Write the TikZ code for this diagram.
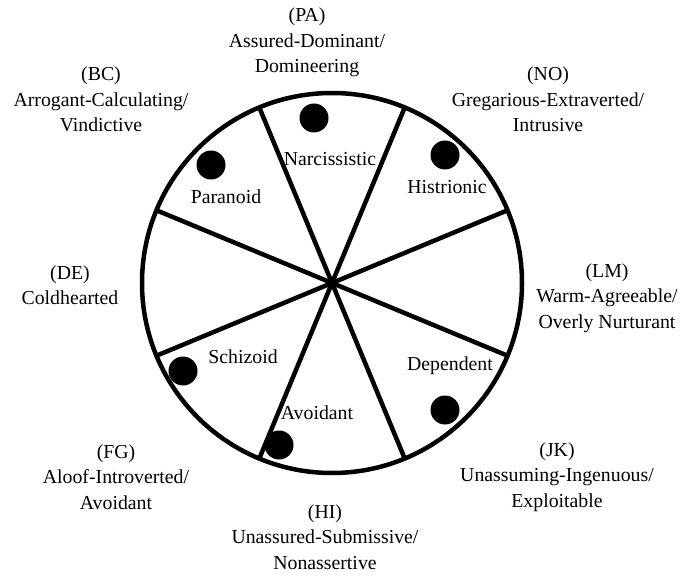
\documentclass[tikz,border=0pt]{standalone}
\usepackage{fontspec}
\setmainfont{Liberation Serif}
\usetikzlibrary{calc}
\begin{document}
\begin{tikzpicture}[x=1pt,y=-1pt,
  lbl/.style={align=center,inner sep=0pt,font=\fontsize{19.8}{25.5}\selectfont},
  inlbl/.style={inner sep=0pt,font=\fontsize{19.8}{24}\selectfont},
  spoke/.style={line width=4.5pt},
  rim/.style={line width=4.5pt},
  dot/.style={circle,fill=black,inner sep=0pt,minimum size=29pt}]
\useasboundingbox (0,0) rectangle (688,577);
\coordinate (c) at (332,283);
% spoke end points on the rim
\coordinate (e1) at ($(c)+(22.5:190)$);
\coordinate (e2) at ($(c)+(67.5:190)$);
\coordinate (e3) at ($(c)+(112.5:190)$);
\coordinate (e4) at ($(c)+(157.5:190)$);
\coordinate (e5) at ($(c)+(202.5:190)$);
\coordinate (e6) at ($(c)+(247.5:190)$);
\coordinate (e7) at ($(c)+(292.5:190)$);
\coordinate (e8) at ($(c)+(337.5:190)$);
\draw[spoke] (e1) -- (e5);
\draw[spoke] (e2) -- (e6);
\draw[spoke] (e3) -- (e7);
\draw[spoke] (e4) -- (e8);
\draw[rim] (c) circle[radius=190];
% dots
\node[dot] (dN) at (314,118) {};
\node[dot] (dP) at (211,165) {};
\node[dot] (dH) at (445,155) {};
\node[dot] (dS) at (183,371) {};
\node[dot] (dD) at (445,410) {};
\node[dot] (dA) at (279,445) {};
% inner labels
\node[inlbl] (tN) at (330,159) {Narcissistic};
\node[inlbl] (tP) at (226,197) {Paranoid};
\node[inlbl] (tH) at (447,187) {Histrionic};
\node[inlbl] (tS) at (243,357) {Schizoid};
\node[inlbl] (tD) at (450,366) {Dependent};
\node[inlbl] (tA) at (317,413) {Avoidant};
% outer labels
\node[lbl] (PA) at (307,42.5) {(PA)\\Assured-Dominant/\\Domineering};
\node[lbl] (BC) at (101,99.5) {(BC)\\Arrogant-Calculating/\\Vindictive};
\node[lbl] (NO) at (548,99.5) {(NO)\\Gregarious-Extraverted/\\Intrusive};
\node[lbl] (DE) at (70,285) {(DE)\\Coldhearted};
\node[lbl] (LM) at (607,298) {(LM)\\Warm-Agreeable/\\Overly Nurturant};
\node[lbl] (FG) at (116,477) {(FG)\\Aloof-Introverted/\\Avoidant};
\node[lbl] (JK) at (557,477) {(JK)\\Unassuming-Ingenuous/\\Exploitable};
\node[lbl] (HI) at (325,537) {(HI)\\Unassured-Submissive/\\Nonassertive};
\end{tikzpicture}
\end{document}
